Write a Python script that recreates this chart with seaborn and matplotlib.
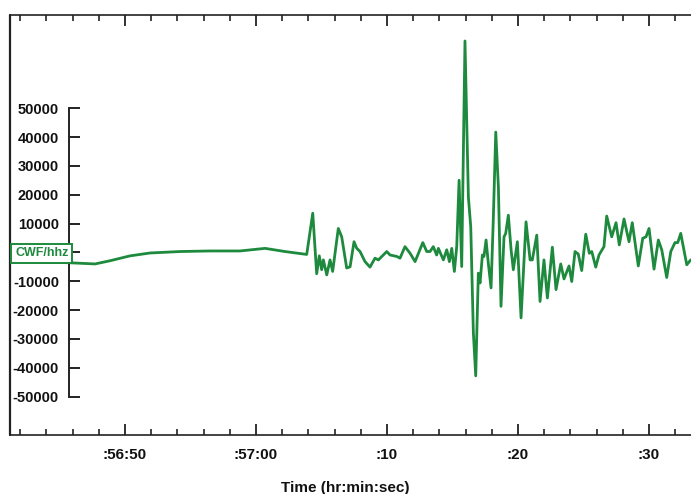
import numpy as np
import pandas as pd
import matplotlib
matplotlib.use('Agg')
import matplotlib.pyplot as plt
import matplotlib.transforms as mtransforms
from matplotlib.ticker import FixedLocator, MultipleLocator
import seaborn as sns

sns.set_style('white')
plt.rcParams['font.family'] = ['Liberation Sans', 'DejaVu Sans']
plt.rcParams['font.weight'] = 'bold'

GREEN = '#1d8a3d'
FRAME = '#222222'

# seconds after 00:56:00
time_s = [41.22, 43.51, 45.80, 47.71, 48.85, 50.38, 51.91, 54.20, 56.49, 58.78, 60.69, 62.21, 63.87,
          64.33, 64.63, 64.83, 65.01, 65.14, 65.40, 65.65, 65.85, 66.28, 66.54, 66.92, 67.18, 67.48,
          67.69, 67.94, 68.32, 68.70, 69.08, 69.34, 69.98, 70.23, 70.74, 70.99, 71.37, 71.76, 72.14,
          72.73, 73.03, 73.28, 73.53, 73.79, 73.92, 74.30, 74.56, 74.76, 74.94, 75.14, 75.32, 75.50,
          75.70, 75.95, 76.21, 76.39, 76.59, 76.77, 76.97, 77.10, 77.28, 77.40, 77.56, 77.73, 77.94,
          78.11, 78.30, 78.50, 78.70, 78.93, 79.06, 79.26, 79.47, 79.64, 79.95, 80.23, 80.61, 80.92,
          81.09, 81.43, 81.68, 81.98, 82.24, 82.62, 82.90, 83.26, 83.51, 83.89, 84.10, 84.35, 84.60,
          84.86, 85.17, 85.44, 85.63, 85.93, 86.18, 86.56, 86.77, 87.15, 87.48, 87.73, 88.09, 88.47,
          88.72, 89.18, 89.52, 89.77, 90.00, 90.38, 90.71, 90.97, 91.35, 91.66, 91.98, 92.19, 92.42,
          92.88, 93.18]
counts = [-2900, -3300, -3600, -4000, -2900, -1200, -200, 300, 500, 500, 1400, 300, -700,
          13600, -7400, -1200, -6000, -2600, -7800, -2600, -6600, 8300, 5400, -5400, -5000, 3700,
          1400, 300, -3200, -5100, -2000, -2600, 300, -900, -1400, -2000, 2000, -300, -3200,
          3400, 300, 300, 2000, -900, 1400, -2600, 900, -3200, 1400, -6600, 2000, 25000,
          -4900, 73300, 19200, 8900, -27800, -42800, -7200, -10600, -900, -1400, 4300, -3700, -12300,
          11200, 41700, 22700, -18700, 5400, 6600, 12900, 900, -6000, 3700, -22700, 10600, -2600,
          -2600, 6000, -17000, -2600, -15800, 1800, -12900, -4000, -9200, -4700, -10100, 300, -600,
          -6300, 6300, -300, 300, -5100, -900, 2000, 12600, 5400, 10300, 2600, 11600, 3700,
          10300, -4700, 4900, 5400, 8300, -5800, 4300, 900, -8700, 300, 3400, 3400, 6600,
          -4300, -2600]

x_ticks = [50, 60, 70, 80, 90]
x_labels = [':56:50', ':57:00', ':10', ':20', ':30']
y_ticks = [50000, 40000, 30000, 20000, 10000, 0, -10000, -20000, -30000, -40000, -50000]
y_labels = ['50000', '40000', '30000', '20000', '10000', '', '-10000', '-20000', '-30000', '-40000', '-50000']
station = 'CWF/hhz'

df = pd.DataFrame({'time': time_s, 'counts': counts})

fig = plt.figure(figsize=(6.91, 4.94), dpi=100)
ax = fig.add_axes([10 / 691, 59 / 494, 690 / 691, 420 / 494])

sns.lineplot(data=df, x='time', y='counts', color=GREEN, linewidth=2.0,
             estimator=None, sort=True, ax=ax)
for line in ax.get_lines():
    line.set_solid_joinstyle('round')

ax.set_xlim(41.22, 93.89)
ax.set_ylim(-63300, 82300)

# frame
for s in ['top', 'bottom', 'right']:
    ax.spines[s].set_color(FRAME)
    ax.spines[s].set_linewidth(1.2)
ax.axvline(41.22, color=FRAME, lw=1.6, clip_on=False)

# detached amplitude axis
ax.spines['left'].set_position(('data', 45.7))
ax.spines['left'].set_bounds(-50000, 50000)
ax.spines['left'].set_color(FRAME)
ax.spines['left'].set_linewidth(1.4)
ax.yaxis.set_major_locator(FixedLocator(y_ticks))
ax.set_yticklabels(y_labels)
ax.tick_params(axis='y', which='major', left=True, direction='in', length=8, width=1.4, pad=7,
               labelsize=10.5, color=FRAME, labelcolor='#111111')

ax.xaxis.set_major_locator(FixedLocator(x_ticks))
ax.xaxis.set_minor_locator(MultipleLocator(2))
ax.set_xticklabels(x_labels)
ax.tick_params(axis='x', which='major', direction='in', length=8, width=1.3,
               top=True, bottom=True, pad=9, labelsize=11, color=FRAME, labelcolor='#111111')
ax.tick_params(axis='x', which='minor', direction='in', length=4, width=1.2,
               top=True, bottom=True, color=FRAME)

ax.set_xlabel('Time (hr:min:sec)', fontsize=11, fontweight='bold', color='#111111')
ax.xaxis.set_label_coords(0.4855, -0.11)
ax.set_ylabel('')

trans = mtransforms.blended_transform_factory(ax.transAxes, ax.transData)
ax.text(0.0075, -300, station, transform=trans, ha='left', va='center',
        fontsize=9, fontweight='bold', color=GREEN, zorder=10,
        bbox=dict(boxstyle='square,pad=0.3', fc='white', ec=GREEN, lw=1.4))

fig.savefig('out.png', dpi=100)
